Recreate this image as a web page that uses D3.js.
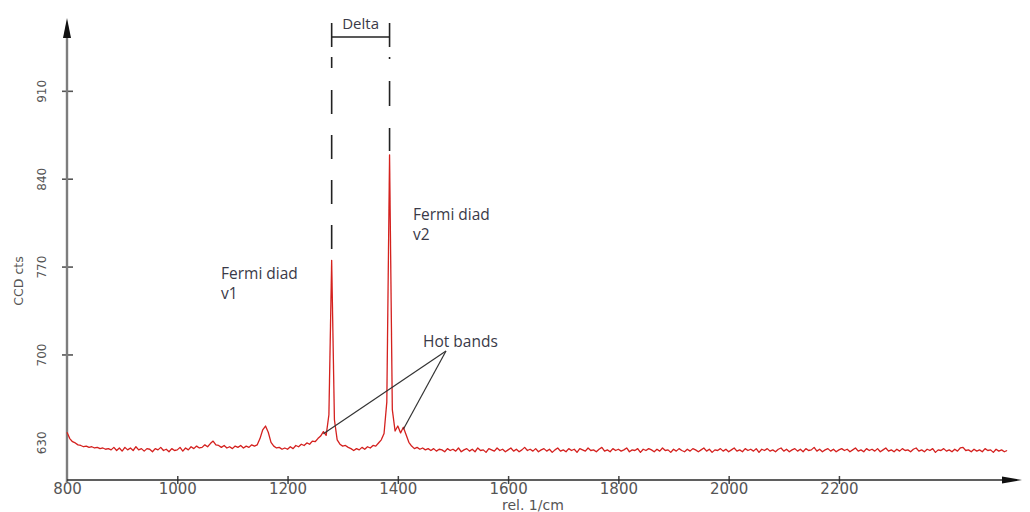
<!DOCTYPE html>
<html>
<head>
<meta charset="utf-8">
<script src="https://cdn.jsdelivr.net/npm/d3@7/dist/d3.min.js"></script>
<style>
  html, body { margin: 0; padding: 0; background: #fff; }
  svg { display: block; }
</style>
</head>
<body>
<svg id="chart" width="1030" height="512"></svg>
<script>
// Raman spectrum, CCD counts sampled every 5 rel. 1/cm starting at 800
const startWavenumber = 800;
const stepWavenumber = 5;
const counts = [
  // 800 - 895
  638, 633, 630.5, 629.5, 628, 627.5, 626.5, 627, 626, 626.5, 625.5, 626, 625, 625.5, 624.5, 625, 624, 626, 623.5, 625.5,
  // 900 - 995
  623, 626, 624, 625.5, 623.5, 626.5, 624, 625, 623, 625, 624.5, 622.5, 625, 624, 626, 623.5, 624.5, 622.5, 625, 623.5,
  // 1000 - 1095
  624, 626, 623, 625.5, 624, 626.5, 625, 627, 625.5, 626, 628, 626.5, 629, 631, 628, 627.5, 626, 627.5, 625.5, 626.5,
  // 1100 - 1195
  625, 627, 626, 627.5, 625.5, 627, 626, 628, 627, 628, 633, 640, 643, 638, 630, 627, 625.5, 626, 624.5, 625.5,
  // 1200 - 1295
  624.5, 626.5, 625, 627.5, 626.5, 628.5, 627.5, 629.5, 628.5, 631, 630.5, 633, 635, 638.5, 635.5, 652, 775, 648, 632, 628.5,
  // 1300 - 1395
  627, 627.5, 626, 625, 623.5, 625, 624, 626, 624.5, 626.5, 625.5, 627.5, 627, 629.5, 632, 637, 662, 859, 656, 639,
  // 1400 - 1495
  643, 637.5, 642, 636, 630, 627, 625, 626, 624.5, 625.5, 624, 625, 623.5, 625, 623, 624.5, 624, 622.5, 625, 623.5,
  // 1500 - 1595
  624.5, 623, 625.5, 622.5, 624, 625, 623, 624.5, 622.5, 625.5, 623.5, 624, 622, 625, 624, 623, 625.5, 623.5, 624.5, 622.5,
  // 1600 - 1695
  624, 625.5, 623, 624.5, 622.5, 624, 626, 623.5, 624.5, 623, 625, 622.5, 624, 625, 623, 624.5, 622, 624, 625.5, 623,
  // 1700 - 1795
  624, 622.5, 625, 623.5, 624.5, 622, 625, 624, 623, 625.5, 623.5, 624, 622.5, 624.5, 626, 623, 624, 622.5, 625, 623.5,
  // 1800 - 1895
  624.5, 623, 624, 625.5, 622.5, 624, 623.5, 625, 622, 624.5, 623.5, 625, 624, 622.5, 624.5, 623, 625.5, 623.5, 624, 622,
  // 1900 - 1995
  624.5, 623, 625, 623.5, 622.5, 624.5, 623, 625, 624, 622.5, 624, 625.5, 623, 624.5, 622, 624, 623.5, 625, 623, 624.5,
  // 2000 - 2095
  622.5, 624, 625.5, 623, 624, 622.5, 625, 623.5, 624.5, 623, 625, 622, 624.5, 623.5, 625, 623, 624, 622.5, 624.5, 625.5,
  // 2100 - 2195
  623, 624.5, 622.5, 624, 625, 623, 624.5, 622.5, 625, 623.5, 624, 626, 623, 624.5, 622.5, 624, 625, 623, 624.5, 622.5,
  // 2200 - 2295
  624, 625, 623.5, 624.5, 622.5, 624, 625.5, 623, 624, 622.5, 625, 623.5, 624.5, 623, 625, 622.5, 624, 625.5, 623, 624,
  // 2300 - 2395
  622.5, 624.5, 623, 625, 623.5, 624, 622.5, 624.5, 625.5, 623, 624, 622.5, 624.5, 623.5, 625, 622, 624, 623.5, 625, 623,
  // 2400 - 2495
  624, 622.5, 624.5, 623, 625.5, 626, 623.5, 624, 622.5, 624.5, 623, 624, 622.5, 625, 623.5, 624, 622, 624.5, 623, 624,
  // 2500 - 2505
  622.5, 623.5
];

const xTickValues = [800, 1000, 1200, 1400, 1600, 1800, 2000, 2200];
const yTickValues = [630, 700, 770, 840, 910];
const xDomain = [800, 2532];
const yDomain = [600, 968];

// Annotated bands (rel. 1/cm)
const fermiV1 = 1280;
const fermiV2 = 1385;
const hotBands = [1265, 1410];

const spectrum = counts.map((c, i) => ({ wn: startWavenumber + i * stepWavenumber, c }));
const valueAt = wn => spectrum.find(d => d.wn === wn).c;

const svg = d3.select("#chart");
const x = d3.scaleLinear().domain(xDomain).range([67, 1022]);
const y = d3.scaleLinear().domain(yDomain).range([480, 18]);

const labelFont = "DejaVu Sans, sans-serif";
const noteFont = "Open Sans, sans-serif";

svg.append("defs").append("filter").attr("id", "soft")
  .append("feGaussianBlur").attr("stdDeviation", 0.35);

// ----- Y axis (grey shaft, black arrow head) -----
const yAxis = svg.append("g").attr("transform", `translate(${x(800)},0)`)
  .call(d3.axisLeft(y).tickValues(yTickValues).tickSize(0).tickFormat(d3.format("d")));
yAxis.select(".domain").remove();
yAxis.selectAll(".tick line").filter(d => d !== 630)
  .attr("x1", -5).attr("x2", 6).attr("stroke", "#555").attr("stroke-width", 1.6);
yAxis.selectAll(".tick text")
  .attr("font-family", labelFont).attr("font-size", 12).attr("fill", "#555")
  .attr("text-anchor", "middle")
  .attr("x", null).attr("dy", null)
  .attr("transform", "translate(-21,0) rotate(-90)");

svg.append("line")
  .attr("x1", x(800)).attr("x2", x(800))
  .attr("y1", y.range()[0] + 2).attr("y2", y.range()[1] + 14)
  .attr("stroke", "#7d7d7d").attr("stroke-width", 2.4);
svg.append("path")
  .attr("d", `M${x(800)},${y.range()[1]} L${x(800) - 4},${y.range()[1] + 20} L${x(800) + 4},${y.range()[1] + 20} Z`)
  .attr("fill", "#111");

svg.append("text")
  .attr("transform", `translate(23,281) rotate(-90)`)
  .attr("text-anchor", "middle")
  .attr("font-family", labelFont).attr("font-size", 12.5).attr("fill", "#555")
  .text("CCD cts");

// ----- X axis (dark shaft, arrow head on the right) -----
const xAxis = svg.append("g").attr("transform", `translate(0,${y(600)})`)
  .call(d3.axisBottom(x).tickValues(xTickValues).tickSize(0).tickFormat(d3.format("d")));
xAxis.select(".domain").remove();
xAxis.selectAll(".tick line").filter(d => d !== 800)
  .attr("y1", -4).attr("y2", 4).attr("stroke", "#444").attr("stroke-width", 1.5);
xAxis.selectAll(".tick text")
  .attr("font-family", labelFont).attr("font-size", 15).attr("fill", "#555")
  .attr("y", 13.5).attr("dy", null);

svg.append("line")
  .attr("x1", x(800)).attr("x2", x.range()[1] - 16)
  .attr("y1", y(600)).attr("y2", y(600))
  .attr("stroke", "#2a2a2a").attr("stroke-width", 1.5);
svg.append("path")
  .attr("d", `M${x.range()[1]},${y(600)} L${x.range()[1] - 20},${y(600) - 3.5} L${x.range()[1] - 20},${y(600) + 3.5} Z`)
  .attr("fill", "#111");

svg.append("text")
  .attr("x", 502).attr("y", 510)
  .attr("font-family", labelFont).attr("font-size", 14).attr("fill", "#555")
  .text("rel. 1/cm");

// ----- Spectrum -----
const line = d3.line().x(d => x(d.wn)).y(d => y(d.c));
svg.append("path")
  .datum(spectrum)
  .attr("d", line)
  .attr("fill", "none")
  .attr("stroke", "#d4201f")
  .attr("stroke-width", 1.3)
  .attr("stroke-linejoin", "round")
  .attr("filter", "url(#soft)");

// ----- Delta bracket and dashed guides -----
const xa = x(fermiV1), xb = x(fermiV2);
const bracketY = 37;
const guides = svg.append("g").attr("stroke", "#222").attr("stroke-width", 1.6);
guides.append("line").attr("x1", xa).attr("x2", xb).attr("y1", bracketY).attr("y2", bracketY);
guides.append("line").attr("x1", xa).attr("x2", xa).attr("y1", bracketY - 14).attr("y2", bracketY + 10);
guides.append("line").attr("x1", xb).attr("x2", xb).attr("y1", bracketY - 14).attr("y2", bracketY + 10);
guides.append("line")
  .attr("x1", xa).attr("x2", xa).attr("y1", 57).attr("y2", y(valueAt(fermiV1)) - 8)
  .attr("stroke-dasharray", "11,22,24,21,24,21,24,21,24,21");
guides.append("line")
  .attr("x1", xb).attr("x2", xb).attr("y1", 57).attr("y2", y(valueAt(fermiV2)) - 2)
  .attr("stroke-dasharray", "2,22,25,22,23,22");

svg.append("text")
  .attr("x", (xa + xb) / 2).attr("y", 29)
  .attr("text-anchor", "middle")
  .attr("font-family", noteFont).attr("font-size", 15).attr("fill", "#3a3a48")
  .text("Delta");

// ----- Peak notes -----
const notes = [
  { x: 221, y: 279, lines: ["Fermi diad", "v1"] },
  { x: 413, y: 220, lines: ["Fermi diad", "v2"] }
];
notes.forEach(n => {
  const t = svg.append("text")
    .attr("x", n.x).attr("y", n.y)
    .attr("font-family", noteFont).attr("font-size", 15.5).attr("fill", "#3a3a48");
  n.lines.forEach((s, i) => t.append("tspan").attr("x", n.x).attr("dy", i ? 20 : 0).text(s));
});

svg.append("text")
  .attr("x", 423).attr("y", 347)
  .attr("font-family", noteFont).attr("font-size", 15.5).attr("fill", "#3a3a48")
  .text("Hot bands");

// Pointer lines from the label down to the hot bands
const pointerOrigin = [446, 351];
svg.append("g").selectAll("line").data(hotBands).join("line")
  .attr("x1", pointerOrigin[0]).attr("y1", pointerOrigin[1])
  .attr("x2", d => x(d)).attr("y2", d => y(valueAt(d)) + 2)
  .attr("stroke", "#333").attr("stroke-width", 1.2);
</script>
</body>
</html>
